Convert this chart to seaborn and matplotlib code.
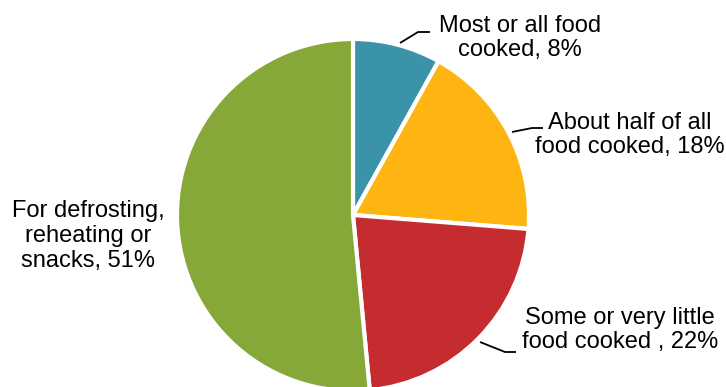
import matplotlib
matplotlib.use("Agg")
import matplotlib.pyplot as plt
import seaborn as sns

# Data
categories = ["Most or all food\ncooked, 8%",
              "About half of all\nfood cooked, 18%",
              "Some or very little\nfood cooked , 22%",
              "For defrosting,\nreheating or\nsnacks, 51%"]
values = [8, 18, 22, 51]
colors = ["#3A93A9", "#FFB511", "#C52C30", "#86A838"]

sns.set_theme(style="white")
plt.rcParams['font.family'] = ['Liberation Sans', 'DejaVu Sans']

W, H = 726, 387
fig = plt.figure(figsize=(W / 100, H / 100), dpi=100)
ax = fig.add_axes([0, 0, 1, 1])

cx, cy, r = 353, H - 215, 176
ax.pie(values, colors=colors, startangle=90, counterclock=False,
       center=(cx, cy), radius=r, frame=True,
       wedgeprops=dict(edgecolor="white", linewidth=3))
ax.set_xlim(0, W)
ax.set_ylim(0, H)
ax.set_aspect('equal')
ax.axis('off')

# label positions (pixel coords, y from top) and leader lines
label_pos = [(520, 38), (630, 135), (620, 330), (88, 236)]
leaders = [
    [(400, 43), (418, 32), (430, 32)],
    [(512, 132), (532, 128), (543, 128)],
    [(480, 342), (505, 352), (516, 352)],
    None,
]
for lab, (x, y), ld in zip(categories, label_pos, leaders):
    ax.text(x, H - y, lab, ha='center', va='center', multialignment='center',
            fontsize=17, color='black', linespacing=1.15)
    if ld:
        xs = [p[0] for p in ld]
        ys = [H - p[1] for p in ld]
        ax.plot(xs, ys, color='black', lw=1.3, solid_capstyle='butt')

fig.savefig("out.png", dpi=100)
